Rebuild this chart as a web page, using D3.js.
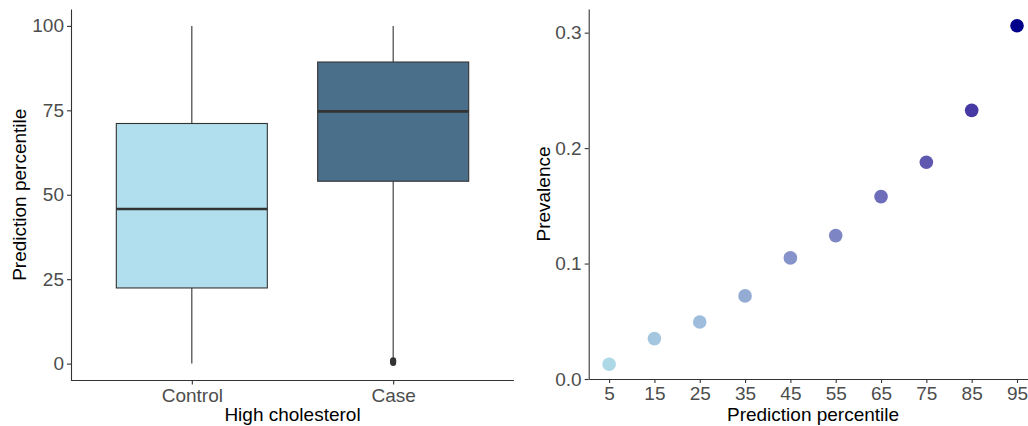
<!DOCTYPE html>
<meta charset="utf-8">
<title>Prediction percentile and prevalence</title>
<style>
body { margin: 0; background: #fff; }
svg { display: block; font-family: "Liberation Sans", Arial, sans-serif; }
.axis path, .axis line { stroke: #333; stroke-width: 1.1px; }
.axis text { fill: #4d4d4d; font-size: 19px; }
.title { fill: #000; font-size: 19px; }
</style>
<body>
<script src="https://d3js.org/d3.v7.min.js"></script>
<script>

var width = 1028, height = 426;

// box plot data (prediction percentile by group)
var groups = ["Control", "Case"];
var boxFill = ["#b1dfed", "#4a6f8b"];
var boxMin = [0, 1.3];
var boxQ1 = [22.4, 54.0];
var boxMed = [45.8, 74.7];
var boxQ3 = [71.1, 89.3];
var boxMax = [100, 100];
var outliers = [[], [0.2, 0.5, 0.8, 1.0]];

// prevalence by prediction percentile
var pctl = [5, 15, 25, 35, 45, 55, 65, 75, 85, 95];
var prevalence = [0.0128, 0.035, 0.0494, 0.072, 0.1049, 0.1242, 0.158, 0.1877, 0.2327, 0.306];

var svg = d3.select("body").append("svg")
    .attr("width", width)
    .attr("height", height);

// ---------- left panel: box plot ----------
var left = { x0: 71, x1: 514, y0: 9, y1: 380.5 };

// discrete x with 0.6 category units of padding on each side (ggplot style)
var step1 = (left.x1 - left.x0) / (groups.length - 1 + 1.2);
var x1 = d3.scalePoint()
    .domain(groups)
    .range([left.x0 + 0.6 * step1, left.x1 - 0.6 * step1]);

var y1 = d3.scaleLinear()
    .domain([-5, 105])
    .range([left.y1, left.y0]);

var gL = svg.append("g");

gL.append("g")
    .attr("class", "axis")
    .attr("transform", "translate(" + left.x0 + ",0)")
    .call(d3.axisLeft(y1).tickValues([0, 25, 50, 75, 100]).tickSize(4).tickPadding(3).tickSizeOuter(0));

var gxL = gL.append("g")
    .attr("class", "axis")
    .attr("transform", "translate(0," + left.y1 + ")")
    .call(d3.axisBottom(x1).tickSize(4).tickPadding(4).tickSizeOuter(0));
gxL.select(".domain").attr("d", "M" + left.x0 + ",0H" + left.x1);

var boxW = step1 * 0.75;

groups.forEach(function(g, i) {
  var c = x1(g);
  // whiskers
  gL.append("line")
      .attr("x1", c).attr("x2", c)
      .attr("y1", y1(boxQ3[i])).attr("y2", y1(boxMax[i]))
      .attr("stroke", "#333").attr("stroke-width", 1.1);
  gL.append("line")
      .attr("x1", c).attr("x2", c)
      .attr("y1", y1(boxQ1[i])).attr("y2", y1(boxMin[i]))
      .attr("stroke", "#333").attr("stroke-width", 1.1);
  // box
  gL.append("rect")
      .attr("x", c - boxW / 2)
      .attr("y", y1(boxQ3[i]))
      .attr("width", boxW)
      .attr("height", y1(boxQ1[i]) - y1(boxQ3[i]))
      .attr("fill", boxFill[i])
      .attr("stroke", "#333")
      .attr("stroke-width", 1.1);
  // median
  gL.append("line")
      .attr("x1", c - boxW / 2).attr("x2", c + boxW / 2)
      .attr("y1", y1(boxMed[i])).attr("y2", y1(boxMed[i]))
      .attr("stroke", "#333").attr("stroke-width", 2.6);
  // outliers
  gL.selectAll(null)
      .data(outliers[i])
    .enter().append("circle")
      .attr("cx", c)
      .attr("cy", function(d) { return y1(d); })
      .attr("r", 3)
      .attr("fill", "#333");
});

gL.append("text")
    .attr("class", "title")
    .attr("x", (left.x0 + left.x1) / 2)
    .attr("y", 421)
    .attr("text-anchor", "middle")
    .text("High cholesterol");

gL.append("text")
    .attr("class", "title")
    .attr("transform", "translate(26," + (left.y0 + left.y1) / 2 + ") rotate(-90)")
    .attr("text-anchor", "middle")
    .text("Prediction percentile");

// ---------- right panel: prevalence points ----------
var right = { x0: 588.7, x1: 1037.4, y0: 9, y1: 379 };

var x2 = d3.scaleLinear()
    .domain([0.5, 99.5])
    .range([right.x0, right.x1]);

var y2 = d3.scaleLinear()
    .domain([0, 0.3205])
    .range([right.y1, right.y0]);

var color = d3.scaleLinear()
    .domain(d3.extent(prevalence))
    .range(["lightblue", "darkblue"])
    .interpolate(d3.interpolateLab);

var gR = svg.append("g");

gR.append("g")
    .attr("class", "axis")
    .attr("transform", "translate(" + right.x0 + ",0)")
    .call(d3.axisLeft(y2).tickValues([0, 0.1, 0.2, 0.3]).tickFormat(d3.format(".1f"))
      .tickSize(4).tickPadding(3).tickSizeOuter(0));

gR.append("g")
    .attr("class", "axis")
    .attr("transform", "translate(0," + right.y1 + ")")
    .call(d3.axisBottom(x2).tickValues(pctl).tickFormat(d3.format("d"))
      .tickSize(4).tickPadding(4).tickSizeOuter(0));

gR.selectAll("circle.pt")
    .data(pctl)
  .enter().append("circle")
    .attr("class", "pt")
    .attr("cx", function(d) { return x2(d); })
    .attr("cy", function(d, i) { return y2(prevalence[i]); })
    .attr("r", 6.8)
    .attr("fill", function(d, i) { return color(prevalence[i]); });

gR.append("text")
    .attr("class", "title")
    .attr("x", (right.x0 + right.x1) / 2)
    .attr("y", 421)
    .attr("text-anchor", "middle")
    .text("Prediction percentile");

gR.append("text")
    .attr("class", "title")
    .attr("transform", "translate(550," + (right.y0 + right.y1) / 2 + ") rotate(-90)")
    .attr("text-anchor", "middle")
    .text("Prevalence");

</script>
</body>
